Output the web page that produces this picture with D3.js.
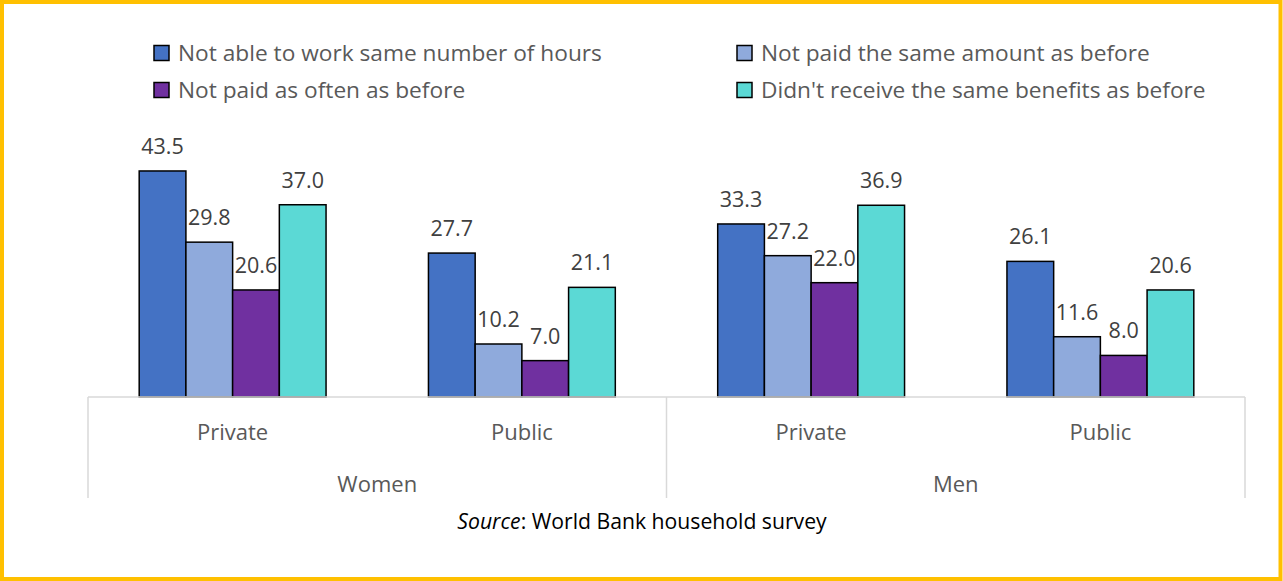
<!DOCTYPE html>
<html>
<head>
<meta charset="utf-8">
<script src="https://cdn.jsdelivr.net/npm/d3@7"></script>
<style>
  html, body { margin: 0; padding: 0; background: #fff; }
  svg { display: block; }
  text { font-family: "Open Sans", "Noto Sans", sans-serif; }
</style>
</head>
<body>
<svg id="chart" width="1283" height="581"></svg>
<script>
// Survey categories and series
const groups = ["Women", "Men"];
const sectors = ["Private", "Public"];
const seriesNames = [
  "Not able to work same number of hours",
  "Not paid the same amount as before",
  "Not paid as often as before",
  "Didn't receive the same benefits as before"
];
const seriesColors = ["#4472C4", "#8FAADC", "#7030A0", "#5BD9D5"];

// Values per category (Women-Private, Women-Public, Men-Private, Men-Public)
const hoursValues    = [43.5, 27.7, 33.3, 26.1];
const amountValues   = [29.8, 10.2, 27.2, 11.6];
const oftenValues    = [20.6, 7.0, 22.0, 8.0];
const benefitsValues = [37.0, 21.1, 36.9, 20.6];
const seriesValues = [hoursValues, amountValues, oftenValues, benefitsValues];

const categories = [];
groups.forEach(g => sectors.forEach(s => categories.push({ key: g + "-" + s, group: g, sector: s })));

const svg = d3.select("#chart");
const W = 1283, H = 581;

// Outer frame
svg.append("rect")
  .attr("x", 2).attr("y", 2)
  .attr("width", W - 4.5).attr("height", H - 4)
  .attr("fill", "#fff")
  .attr("stroke", "#FFC000")
  .attr("stroke-width", 4);

const plotLeft = 88, plotRight = 1245, baseY = 397;

const x0 = d3.scaleBand()
  .domain(categories.map(d => d.key))
  .range([plotLeft, plotRight])
  .paddingInner(0.354)
  .paddingOuter(0.177);

const x1 = d3.scaleBand()
  .domain(d3.range(seriesNames.length))
  .range([0, x0.bandwidth()]);

const y = d3.scaleLinear().domain([0, 50]).range([baseY, baseY - 259.8]);

// Bars
const catG = svg.append("g").selectAll("g")
  .data(categories)
  .join("g")
  .attr("transform", d => `translate(${x0(d.key)},0)`);

catG.each(function (cat, ci) {
  const g = d3.select(this);
  const vals = seriesValues.map((arr, si) => ({ si, v: arr[ci] }));
  g.selectAll("rect")
    .data(vals)
    .join("rect")
    .attr("x", d => x1(d.si))
    .attr("y", d => y(d.v))
    .attr("width", x1.bandwidth())
    .attr("height", d => baseY - y(d.v))
    .attr("fill", d => seriesColors[d.si])
    .attr("stroke", "#000")
    .attr("stroke-width", 1.5);
  g.selectAll("text.val")
    .data(vals)
    .join("text")
    .attr("class", "val")
    .attr("x", d => x1(d.si) + x1.bandwidth() / 2)
    .attr("y", d => y(d.v) - 17)
    .attr("text-anchor", "middle")
    .attr("font-size", 21.5)
    .attr("fill", "#404040")
    .text(d => d.v.toFixed(1));
});

// Category axis: baseline, separators and labels
const axisColor = "#D9D9D9";
const step = x0.step();
svg.append("line")
  .attr("x1", plotLeft).attr("x2", plotRight)
  .attr("y1", baseY).attr("y2", baseY)
  .attr("stroke", axisColor).attr("stroke-width", 1.5);

const groupEdges = [plotLeft, plotLeft + step * 2, plotRight];
svg.append("g").selectAll("line")
  .data(groupEdges)
  .join("line")
  .attr("x1", d => d).attr("x2", d => d)
  .attr("y1", baseY).attr("y2", 498)
  .attr("stroke", axisColor).attr("stroke-width", 1.5);

svg.append("g").selectAll("text")
  .data(categories)
  .join("text")
  .attr("x", d => x0(d.key) + x0.bandwidth() / 2)
  .attr("y", 440)
  .attr("text-anchor", "middle")
  .attr("font-size", 22)
  .attr("fill", "#595959")
  .text(d => d.sector);

svg.append("g").selectAll("text")
  .data(groups)
  .join("text")
  .attr("x", (d, i) => (groupEdges[i] + groupEdges[i + 1]) / 2)
  .attr("y", 492)
  .attr("text-anchor", "middle")
  .attr("font-size", 22)
  .attr("fill", "#595959")
  .text(d => d);

// Legend (two columns, two rows)
const legendPos = [
  { x: 154, y: 53 }, { x: 737, y: 53 },
  { x: 154, y: 90 }, { x: 737, y: 90 }
];
const leg = svg.append("g").selectAll("g")
  .data(seriesNames.map((n, i) => ({ n, i })))
  .join("g")
  .attr("transform", d => `translate(${legendPos[d.i].x},${legendPos[d.i].y})`);
leg.append("rect")
  .attr("x", 0).attr("y", -7.5)
  .attr("width", 15).attr("height", 15)
  .attr("fill", d => seriesColors[d.i])
  .attr("stroke", "#000").attr("stroke-width", 1.5);
leg.append("text")
  .attr("x", 24).attr("y", 0)
  .attr("dy", "0.36em")
  .attr("font-size", 22.7)
  .attr("fill", "#595959")
  .text(d => d.n);

// Source note
const src = svg.append("text")
  .attr("x", 642).attr("y", 529)
  .attr("text-anchor", "middle")
  .attr("font-size", 21.2)
  .attr("fill", "#000");
src.append("tspan").attr("font-style", "italic").text("Source");
src.append("tspan").text(": World Bank household survey");
</script>
</body>
</html>
